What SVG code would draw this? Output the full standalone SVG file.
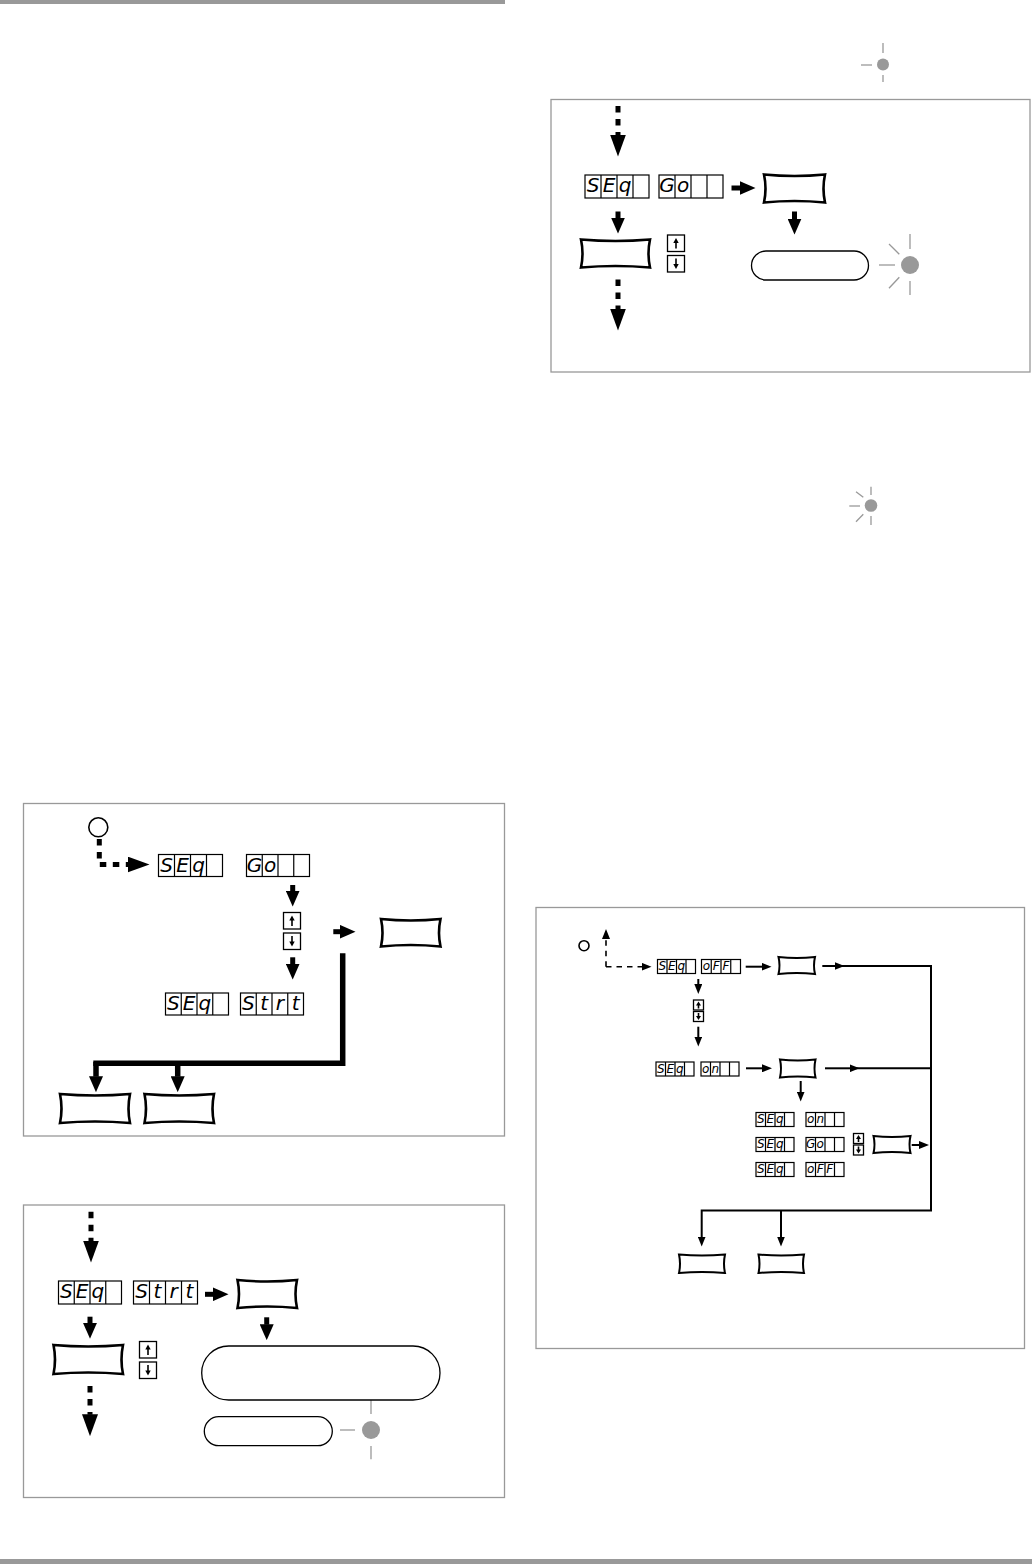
<svg xmlns="http://www.w3.org/2000/svg" xmlns:xlink="http://www.w3.org/1999/xlink" width="1032" height="1564" viewBox="0 0 1032 1564">
<style>
.bar{fill:#999}
.frame{fill:none;stroke:#999;stroke-width:1.3}
.disp{fill:#fff;stroke:#000;stroke-width:1.2}
.div{stroke:#000;stroke-width:1.2}
.seg{font-family:"DejaVu Sans","Liberation Sans",sans-serif;font-style:oblique;font-weight:200;fill:#000;text-anchor:middle}
.segL{font-size:20px}
.segS{font-size:12px}
.key{fill:#fff;stroke:#000;stroke-width:2.6;stroke-linejoin:miter}
.keyS{fill:#fff;stroke:#000;stroke-width:2;stroke-linejoin:miter}
.pill{fill:#fff;stroke:#000;stroke-width:1.3}
.led{fill:#999}
.ray{stroke:#999;stroke-width:1.3}
.ring{fill:#fff;stroke:#000;stroke-width:1.6}
.udbox{fill:#fff;stroke:#000;stroke-width:1.3}
.udline{stroke:#000;stroke-width:1.6}
.thick{fill:none;stroke:#000;stroke-width:5}
.heavy{fill:none;stroke:#000;stroke-width:5.5;stroke-linejoin:miter}
.dash{fill:none;stroke:#000;stroke-width:5;stroke-dasharray:6.5 6.5}
.thin{fill:none;stroke:#000;stroke-width:2}
.dashS{fill:none;stroke:#000;stroke-width:1.6;stroke-dasharray:5.5 5}
</style>
<defs>
<marker id="hM" markerUnits="userSpaceOnUse" viewBox="0 0 16 14" markerWidth="16" markerHeight="14" refX="0.5" refY="7" orient="auto"><path d="M0,0 L16,7 L0,14 Z" fill="#000"/></marker>
<marker id="hL" markerUnits="userSpaceOnUse" viewBox="0 0 22 16" markerWidth="22" markerHeight="16" refX="0.5" refY="8" orient="auto"><path d="M0,0 L22,8 L0,16 Z" fill="#000"/></marker>
<marker id="hS" markerUnits="userSpaceOnUse" viewBox="0 0 10 8" markerWidth="10" markerHeight="8" refX="0.5" refY="4" orient="auto"><path d="M0,0 L10,4 L0,8 Z" fill="#000"/></marker>
<g id="ud">
<rect class="udbox" x="0" y="0" width="17" height="16.5"/>
<rect class="udbox" x="0" y="20.5" width="17" height="16.5"/>
<line class="udline" x1="8.5" y1="13.5" x2="8.5" y2="6"/><polygon points="8.5,3 5.8,8 11.2,8" fill="#000"/>
<line class="udline" x1="8.5" y1="23.5" x2="8.5" y2="31"/><polygon points="8.5,34 5.8,29 11.2,29" fill="#000"/>
</g>
<g id="uds">
<rect class="udbox" x="0" y="0" width="10" height="10"/>
<rect class="udbox" x="0" y="11.5" width="10" height="10"/>
<line class="udline" x1="5" y1="8.5" x2="5" y2="4"/><polygon points="5,1.5 2.5,5.5 7.5,5.5" fill="#000"/>
<line class="udline" x1="5" y1="13" x2="5" y2="17.5"/><polygon points="5,20 2.5,16 7.5,16" fill="#000"/>
</g>
</defs>

<rect class="bar" x="0" y="0" width="505" height="4"/>
<rect class="bar" x="0" y="1559" width="1032" height="5"/>

<!-- frames -->
<rect class="frame" x="551" y="99.5" width="479" height="272.5"/>
<rect class="frame" x="23.5" y="803.5" width="481" height="332.5"/>
<rect class="frame" x="23.5" y="1205" width="481" height="292.5"/>
<rect class="frame" x="536" y="907.5" width="488.5" height="441"/>

<!-- LEDs -->
<g id="led-top">
<circle class="led" cx="883" cy="64.5" r="6"/>
<line class="ray" x1="861" y1="65" x2="872" y2="65"/>
<line class="ray" x1="883" y1="43" x2="883" y2="53"/>
<line class="ray" x1="883" y1="75" x2="883" y2="82"/>
</g>
<g id="led-blink1">
<circle class="led" cx="910" cy="265" r="9"/>
<line class="ray" x1="910" y1="234" x2="910" y2="249"/>
<line class="ray" x1="910" y1="281" x2="910" y2="295"/>
<line class="ray" x1="879" y1="265" x2="895" y2="265"/>
<line class="ray" x1="889" y1="244" x2="899.3" y2="254.3"/>
<line class="ray" x1="889" y1="288.3" x2="899.3" y2="277.3"/>
</g>
<g id="led-blink2">
<circle class="led" cx="871" cy="505.5" r="6.3"/>
<line class="ray" x1="871" y1="486.7" x2="871" y2="495"/>
<line class="ray" x1="871" y1="516" x2="871" y2="525"/>
<line class="ray" x1="849.3" y1="506" x2="860" y2="506"/>
<line class="ray" x1="856" y1="491.7" x2="863.3" y2="497.3"/>
<line class="ray" x1="856" y1="521.7" x2="863.3" y2="514.3"/>
</g>
<g id="led-left2">
<circle class="led" cx="371" cy="1430" r="9"/>
<line class="ray" x1="371" y1="1400" x2="371" y2="1414"/>
<line class="ray" x1="340" y1="1430" x2="355" y2="1430"/>
<line class="ray" x1="371" y1="1446" x2="371" y2="1459.3"/>
</g>

<!-- connectors -->
<g id="connectors">
<line class="dash" x1="618" y1="106" x2="618" y2="135" marker-end="url(#hL)"/>
<line class="thick" x1="731.5" y1="188" x2="740" y2="188" marker-end="url(#hM)"/>
<line class="thick" x1="618" y1="211.5" x2="618" y2="218" marker-end="url(#hM)"/>
<line class="thick" x1="794.5" y1="211.5" x2="794.5" y2="219" marker-end="url(#hM)"/>
<line class="dash" x1="618" y1="279.5" x2="618" y2="309" marker-end="url(#hL)"/>

<path class="dash" d="M99.3,839 V864.5 H128" marker-end="url(#hL)"/>
<line class="thick" x1="292.7" y1="885" x2="292.7" y2="891" marker-end="url(#hM)"/>
<line class="thick" x1="292.7" y1="957.3" x2="292.7" y2="964" marker-end="url(#hM)"/>
<line class="thick" x1="333.3" y1="931.7" x2="340" y2="931.7" marker-end="url(#hM)"/>
<path class="heavy" d="M342.7,953.3 V1063.3 H93.3"/>
<line class="heavy" x1="96" y1="1062" x2="96" y2="1076.7" marker-end="url(#hM)"/>
<line class="heavy" x1="177.7" y1="1062" x2="177.7" y2="1076.7" marker-end="url(#hM)"/>

<line class="dash" x1="91" y1="1211.7" x2="91" y2="1241" marker-end="url(#hL)"/>
<line class="thick" x1="205" y1="1294.3" x2="213" y2="1294.3" marker-end="url(#hM)"/>
<line class="thick" x1="266.7" y1="1317.3" x2="266.7" y2="1324.7" marker-end="url(#hM)"/>
<line class="thick" x1="90" y1="1316.7" x2="90" y2="1323.3" marker-end="url(#hM)"/>
<line class="dash" x1="90" y1="1386" x2="90" y2="1414.7" marker-end="url(#hL)"/>

<path class="dashS" d="M606,966.7 V938.5" marker-end="url(#hS)"/>
<path class="dashS" d="M606,966.7 H642" marker-end="url(#hS)"/>
<line class="thin" x1="745.7" y1="966.7" x2="762" y2="966.7" marker-end="url(#hS)"/>
<line class="thin" x1="822.3" y1="966" x2="835" y2="966" marker-end="url(#hS)"/>
<path class="thin" d="M835,966 H931 V1210.5 H701.7 V1237" marker-end="url(#hS)"/>
<line class="thin" x1="825" y1="1068.3" x2="850" y2="1068.3" marker-end="url(#hS)"/>
<line class="thin" x1="850" y1="1068.3" x2="931" y2="1068.3"/>
<line class="thin" x1="781" y1="1210.5" x2="781" y2="1237" marker-end="url(#hS)"/>
<line class="thin" x1="911.7" y1="1145" x2="919.5" y2="1145" marker-end="url(#hS)"/>
<line class="thin" x1="698.3" y1="979" x2="698.3" y2="984.5" marker-end="url(#hS)"/>
<line class="thin" x1="698.3" y1="1026.7" x2="698.3" y2="1037" marker-end="url(#hS)"/>
<line class="thin" x1="746" y1="1068.3" x2="762.5" y2="1068.3" marker-end="url(#hS)"/>
<line class="thin" x1="800.7" y1="1081" x2="800.7" y2="1092" marker-end="url(#hS)"/>
</g>

<!-- start circles -->
<g id="start1"><circle class="ring" cx="98.3" cy="827.3" r="9.5"/></g>
<g id="start2"><circle class="ring" cx="584" cy="945.7" r="5"/></g>

<!-- displays -->
<g id="d1"><rect class="disp" x="585" y="175" width="64" height="23"/><path class="div" d="M601,175V198M617,175V198M633,175V198"/><text class="seg segL" x="593 609 625" y="192">SEq</text></g>
<g id="d2"><rect class="disp" x="659" y="175" width="64" height="23"/><path class="div" d="M675,175V198M691,175V198M707,175V198"/><text class="seg segL" x="667 683" y="192">Go</text></g>

<g id="d3"><rect class="disp" x="158.5" y="854.5" width="64" height="22"/><path class="div" d="M174.5,854.5V876.5M190.5,854.5V876.5M206.5,854.5V876.5"/><text class="seg segL" x="166.5 182.5 198.5" y="871.5">SEq</text></g>
<g id="d4"><rect class="disp" x="246.5" y="854.5" width="63" height="22"/><path class="div" d="M262.25,854.5V876.5M278,854.5V876.5M293.75,854.5V876.5"/><text class="seg segL" x="254.4 270.1" y="871.5">Go</text></g>
<g id="d5"><rect class="disp" x="165.5" y="993" width="63" height="22"/><path class="div" d="M181.25,993V1015M197,993V1015M212.75,993V1015"/><text class="seg segL" x="173.4 189.1 204.9" y="1010">SEq</text></g>
<g id="d6"><rect class="disp" x="240.5" y="993" width="63" height="22"/><path class="div" d="M256.25,993V1015M272,993V1015M287.75,993V1015"/><text class="seg segL" x="248.4 264.1 279.9 295.6" y="1010">Strt</text></g>

<g id="d7"><rect class="disp" x="58.5" y="1281" width="63" height="23"/><path class="div" d="M74.25,1281V1304M90,1281V1304M105.75,1281V1304"/><text class="seg segL" x="66.4 82.1 97.9" y="1298">SEq</text></g>
<g id="d8"><rect class="disp" x="133.5" y="1281" width="64" height="23"/><path class="div" d="M149.5,1281V1304M165.5,1281V1304M181.5,1281V1304"/><text class="seg segL" x="141.5 157.5 173.5 189.5" y="1298">Strt</text></g>

<g id="d9"><rect class="disp" x="657.5" y="959.5" width="38" height="14"/><path class="div" d="M667,959.5V973.5M676.5,959.5V973.5M686,959.5V973.5"/><text class="seg segS" x="662.25 671.75 681.25" y="970">SEq</text></g>
<g id="d10"><rect class="disp" x="701.5" y="959.5" width="39" height="14"/><path class="div" d="M711.25,959.5V973.5M721,959.5V973.5M730.75,959.5V973.5"/><text class="seg segS" x="706.4 716.1 725.9" y="970">oFF</text></g>
<g id="d11"><rect class="disp" x="656" y="1062" width="38" height="14"/><path class="div" d="M665.5,1062V1076M675,1062V1076M684.5,1062V1076"/><text class="seg segS" x="660.75 670.25 679.75" y="1072.5">SEq</text></g>
<g id="d12"><rect class="disp" x="701" y="1062" width="38" height="14"/><path class="div" d="M710.5,1062V1076M720,1062V1076M729.5,1062V1076"/><text class="seg segS" x="705.75 715.25" y="1072.5">on</text></g>
<g id="d13"><rect class="disp" x="756" y="1112.5" width="38" height="14"/><path class="div" d="M765.5,1112.5V1126.5M775,1112.5V1126.5M784.5,1112.5V1126.5"/><text class="seg segS" x="760.75 770.25 779.75" y="1123">SEq</text></g>
<g id="d14"><rect class="disp" x="806" y="1112.5" width="38" height="14"/><path class="div" d="M815.5,1112.5V1126.5M825,1112.5V1126.5M834.5,1112.5V1126.5"/><text class="seg segS" x="810.75 820.25" y="1123">on</text></g>
<g id="d15"><rect class="disp" x="756" y="1137.5" width="38" height="14"/><path class="div" d="M765.5,1137.5V1151.5M775,1137.5V1151.5M784.5,1137.5V1151.5"/><text class="seg segS" x="760.75 770.25 779.75" y="1148">SEq</text></g>
<g id="d16"><rect class="disp" x="806" y="1137.5" width="38" height="14"/><path class="div" d="M815.5,1137.5V1151.5M825,1137.5V1151.5M834.5,1137.5V1151.5"/><text class="seg segS" x="810.75 820.25" y="1148">Go</text></g>
<g id="d17"><rect class="disp" x="756" y="1162.5" width="38" height="14"/><path class="div" d="M765.5,1162.5V1176.5M775,1162.5V1176.5M784.5,1162.5V1176.5"/><text class="seg segS" x="760.75 770.25 779.75" y="1173">SEq</text></g>
<g id="d18"><rect class="disp" x="806" y="1162.5" width="38" height="14"/><path class="div" d="M815.5,1162.5V1176.5M825,1162.5V1176.5M834.5,1162.5V1176.5"/><text class="seg segS" x="810.75 820.25 829.75" y="1173">oFF</text></g>

<!-- keys -->
<g id="k1"><path class="key" d="M764,174.5 Q794.5,177.5 825,174.5 Q822,188.5 825,202.5 Q794.5,199.5 764,202.5 Q767,188.5 764,174.5 Z"/></g>
<g id="k2"><path class="key" d="M581,239.5 Q615.5,242.5 650,239.5 Q647,253.5 650,267.5 Q615.5,264.5 581,267.5 Q584,253.5 581,239.5 Z"/></g>
<g id="k3"><path class="key" d="M381,919 Q410.75,922 440.5,919 Q437.5,932.75 440.5,946.5 Q410.75,943.5 381,946.5 Q384,932.75 381,919 Z"/></g>
<g id="k4"><path class="key" d="M60,1094 Q95,1097 130,1094 Q127,1108.5 130,1123 Q95,1120 60,1123 Q63,1108.5 60,1094 Z"/></g>
<g id="k5"><path class="key" d="M144.5,1094 Q179.25,1097 214,1094 Q211,1108.5 214,1123 Q179.25,1120 144.5,1123 Q147.5,1108.5 144.5,1094 Z"/></g>
<g id="k6"><path class="key" d="M237.5,1280 Q267.25,1283 297,1280 Q294,1294 297,1308 Q267.25,1305 237.5,1308 Q240.5,1294 237.5,1280 Z"/></g>
<g id="k7"><path class="key" d="M53.5,1345 Q88.25,1348 123,1345 Q120,1359.5 123,1374 Q88.25,1371 53.5,1374 Q56.5,1359.5 53.5,1345 Z"/></g>
<g id="k8"><path class="keyS" d="M778.5,957 Q796.75,959 815,957 Q813,965.5 815,974 Q796.75,972 778.5,974 Q780.5,965.5 778.5,957 Z"/></g>
<g id="k9"><path class="keyS" d="M780,1059.5 Q797.75,1061.5 815.5,1059.5 Q813.5,1068.5 815.5,1077.5 Q797.75,1075.5 780,1077.5 Q782,1068.5 780,1059.5 Z"/></g>
<g id="k10"><path class="keyS" d="M873.5,1136 Q892,1138 910.5,1136 Q908.5,1144.5 910.5,1153 Q892,1151 873.5,1153 Q875.5,1144.5 873.5,1136 Z"/></g>
<g id="k11"><path class="keyS" d="M679,1254.5 Q702,1256.5 725,1254.5 Q723,1263.75 725,1273 Q702,1271 679,1273 Q681,1263.75 679,1254.5 Z"/></g>
<g id="k12"><path class="keyS" d="M758.5,1254.5 Q781.25,1256.5 804,1254.5 Q802,1263.75 804,1273 Q781.25,1271 758.5,1273 Q760.5,1263.75 758.5,1254.5 Z"/></g>

<!-- up/down keys -->
<g id="ud1"><use xlink:href="#ud" href="#ud" x="667.5" y="235"/></g>
<g id="ud2"><use xlink:href="#ud" href="#ud" x="283.5" y="912.5"/></g>
<g id="ud3"><use xlink:href="#ud" href="#ud" x="139.5" y="1341.5"/></g>
<g id="ud4"><use xlink:href="#uds" href="#uds" x="693.5" y="1000"/></g>
<g id="ud5"><use xlink:href="#uds" href="#uds" x="853.5" y="1133.5"/></g>

<!-- pills -->
<g id="pill1"><rect class="pill" x="751.5" y="251" width="117" height="29" rx="14.5"/></g>
<g id="pill2"><rect class="pill" x="201.7" y="1346" width="238.3" height="54" rx="27"/></g>
<g id="pill3"><rect class="pill" x="204.3" y="1416.7" width="128" height="29" rx="14.5"/></g>
</svg>
